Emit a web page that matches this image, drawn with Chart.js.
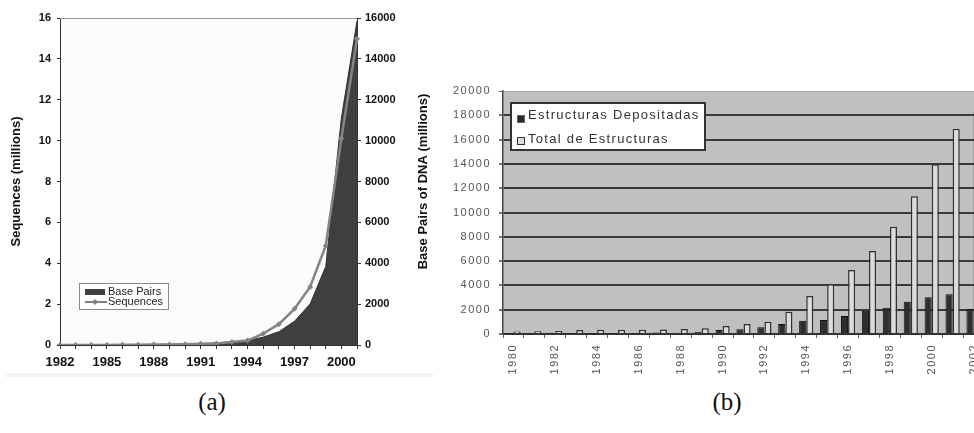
<!DOCTYPE html>
<html lang="en">
<head>
    <meta charset="UTF-8">
    <title>Sequence databases growth</title>
    <script src="https://cdn.jsdelivr.net/npm/chart.js"></script>
    <style>
        html, body { margin: 0; padding: 0; background: #fff; }
        body { position: relative; width: 974px; height: 433px; overflow: hidden; }
        #panelA { position: absolute; left: 0; top: 0; width: 440px; height: 375px; }
        #panelB { position: absolute; left: 440px; top: 0; width: 560px; height: 375px; }
        #edgeA { position: absolute; left: 5px; top: 373px; width: 428px; height: 4px; background: #f3f3f3; }
        .cap { position: absolute; top: 388px; transform: translateX(-50%);
               font-family: "Liberation Serif", "DejaVu Serif", serif; font-size: 25px; color: #111; }
    </style>
</head>
<body>
    <div id="edgeA"></div>
    <canvas id="panelA" width="440" height="375"></canvas>
    <canvas id="panelB" width="560" height="375"></canvas>
    <div class="cap" style="left:212px">(a)</div>
    <div class="cap" style="left:727px">(b)</div>

    <script>
        // (a) GenBank growth
        const yearsA = ['1982', '1983', '1984', '1985', '1986', '1987', '1988', '1989', '1990', '1991',
                        '1992', '1993', '1994', '1995', '1996', '1997', '1998', '1999', '2000', '2001'];
        const yearTicksA = ['1982', '1985', '1988', '1991', '1994', '1997', '2000'];
        // base pairs, millions (right axis)
        const basePairs = [0.7, 2.3, 3.4, 5.2, 9.6, 15.5, 23.8, 34.8, 49.2, 71.9,
                           101, 157, 217, 384, 651, 1160, 2008, 3841, 11101, 15849];
        // sequences, millions (left axis)
        const sequences = [0.0006, 0.0024, 0.0042, 0.0057, 0.0099, 0.0147, 0.0202, 0.0289, 0.0396, 0.0555,
                           0.0786, 0.143, 0.215, 0.555, 1.02, 1.77, 2.84, 4.86, 10.1, 14.98];

        // (b) PDB structures
        const yearsB = ['1980', '1981', '1982', '1983', '1984', '1985', '1986', '1987', '1988', '1989', '1990', '1991',
                        '1992', '1993', '1994', '1995', '1996', '1997', '1998', '1999', '2000', '2001', '2002'];
        const deposited = [20, 20, 100, 30, 30, 30, 40, 120, 60, 190, 330, 390,
                           550, 820, 1090, 1160, 1480, 1920, 2160, 2650, 3020, 3270, 2060];
        const totalStructures = [200, 220, 250, 330, 350, 350, 360, 380, 420, 470, 660, 820,
                                 1010, 1830, 3130, 4110, 5270, 6830, 8820, 11340, 13970, 16900, 18270];

        const sans = '"Liberation Sans", Arial, sans-serif';
        const plain = v => String(v);   // no thousands separator

        // draws plot background, top border, right title and the legend of chart (a)
        const decorA = {
            id: 'decorA',
            beforeDraw(chart) {
                const {ctx, chartArea: a} = chart;
                ctx.save();
                ctx.fillStyle = '#fbfbfb';
                ctx.fillRect(a.left, a.top, a.right - a.left, a.bottom - a.top);
                ctx.restore();
            },
            afterDraw(chart) {
                const {ctx, chartArea: a} = chart;
                ctx.save();
                ctx.strokeStyle = '#9a9a9a';
                ctx.lineWidth = 1;
                ctx.beginPath();
                ctx.moveTo(a.left, a.top + 0.5);
                ctx.lineTo(a.right, a.top + 0.5);
                ctx.stroke();

                // right axis title, reads bottom to top
                ctx.save();
                ctx.translate(chart.width - 17, (a.top + a.bottom) / 2);
                ctx.rotate(-Math.PI / 2);
                ctx.font = 'bold 13px ' + sans;
                ctx.fillStyle = '#111';
                ctx.textAlign = 'center';
                ctx.textBaseline = 'middle';
                ctx.fillText('Base Pairs of DNA (millions)', 0, 0);
                ctx.restore();

                // legend
                const x = a.left + 19, y = a.top + 265;
                ctx.fillStyle = '#fff';
                ctx.fillRect(x, y, 89, 26);
                ctx.strokeStyle = '#8a8a8a';
                ctx.strokeRect(x + 0.5, y + 0.5, 89, 26);
                ctx.fillStyle = '#3f3f3f';
                ctx.fillRect(x + 6, y + 6, 20, 6);
                ctx.strokeStyle = '#7f7f7f';
                ctx.lineWidth = 2;
                ctx.beginPath();
                ctx.moveTo(x + 6, y + 19);
                ctx.lineTo(x + 28, y + 19);
                ctx.stroke();
                ctx.fillStyle = '#7f7f7f';
                ctx.beginPath();
                ctx.moveTo(x + 16, y + 16);
                ctx.lineTo(x + 19, y + 19);
                ctx.lineTo(x + 16, y + 22);
                ctx.lineTo(x + 13, y + 19);
                ctx.closePath();
                ctx.fill();
                ctx.font = '11px ' + sans;
                ctx.fillStyle = '#222';
                ctx.textBaseline = 'middle';
                ctx.fillText('Base Pairs', x + 29, y + 9);
                ctx.fillText('Sequences', x + 29, y + 19);
                ctx.restore();
            }
        };

        new Chart(document.getElementById('panelA'), {
            type: 'line',
            data: {
                labels: yearsA,
                datasets: [{
                    label: 'Sequences',
                    data: sequences,
                    yAxisID: 'y',
                    borderColor: '#858585',
                    borderWidth: 2.5,
                    pointStyle: 'rectRot',
                    pointRadius: 3,
                    pointBackgroundColor: '#858585',
                    pointBorderColor: '#858585',
                    pointBorderWidth: 0,
                    tension: 0
                }, {
                    label: 'Base Pairs',
                    data: basePairs,
                    yAxisID: 'y1',
                    fill: 'origin',
                    backgroundColor: '#3f3f3f',
                    borderColor: '#333',
                    borderWidth: 1,
                    pointRadius: 0,
                    tension: 0
                }]
            },
            options: {
                responsive: false,
                animation: false,
                layout: { padding: { top: 18, left: 0, right: 0, bottom: 0 } },
                plugins: { legend: { display: false }, tooltip: { enabled: false } },
                scales: {
                    x: {
                        offset: false,
                        grid: { drawOnChartArea: false, tickLength: 4, tickColor: '#333' },
                        border: { color: '#333' },
                        ticks: {
                            autoSkip: false, maxRotation: 0, padding: 6, color: '#111',
                            font: { family: sans, size: 13, weight: 'bold' },
                            callback: (v, i) => yearTicksA.includes(yearsA[i]) ? yearsA[i] : ''
                        },
                        afterFit: s => { s.height = 30; }
                    },
                    y: {
                        position: 'left',
                        min: 0, max: 16,
                        grid: { drawOnChartArea: false, tickLength: 3, tickColor: '#333' },
                        border: { color: '#333' },
                        ticks: { stepSize: 2, padding: 6, color: '#111', callback: plain,
                                 font: { family: sans, size: 11, weight: 'bold' } },
                        title: { display: true, text: 'Sequences (millions)', color: '#111',
                                 font: { family: sans, size: 13, weight: 'bold' }, padding: { top: 9 } },
                        afterFit: s => { s.width = 60; }
                    },
                    y1: {
                        position: 'right',
                        min: 0, max: 16000,
                        grid: { drawOnChartArea: false, tickLength: 4, tickColor: '#333' },
                        border: { color: '#333' },
                        ticks: { stepSize: 2000, padding: 4, color: '#111', callback: plain,
                                 font: { family: sans, size: 11, weight: 'bold' } },
                        afterFit: s => { s.width = 83; }
                    }
                }
            },
            plugins: [decorA]
        });

        // plot background, spaced lettering and legend of chart (b)
        const decorB = {
            id: 'decorB',
            beforeDraw(chart) {
                const {ctx, chartArea: a} = chart;
                ctx.fillStyle = '#c0c0c0';
                ctx.fillRect(a.left, a.top, a.right - a.left, a.bottom - a.top);
                ctx.letterSpacing = '1.5px';
            },
            afterDraw(chart) {
                const {ctx, chartArea: a} = chart;
                const x = a.left + 8, y = a.top + 12;
                ctx.save();
                ctx.fillStyle = '#fff';
                ctx.fillRect(x, y, 194, 47);
                ctx.strokeStyle = '#333';
                ctx.lineWidth = 2;
                ctx.strokeRect(x, y, 194, 47);
                ctx.lineWidth = 1;
                ctx.fillStyle = '#2a2a2a';
                ctx.fillRect(x + 6, y + 12, 7, 7);
                ctx.strokeStyle = '#666';
                ctx.strokeRect(x + 6.5, y + 12.5, 7, 7);
                ctx.fillStyle = '#dcdcdc';
                ctx.fillRect(x + 6, y + 34, 7, 7);
                ctx.strokeStyle = '#333';
                ctx.strokeRect(x + 6.5, y + 34.5, 7, 7);
                ctx.letterSpacing = '1.3px';
                ctx.font = '13px ' + sans;
                ctx.fillStyle = '#333';
                ctx.textBaseline = 'middle';
                ctx.fillText('Estructuras Depositadas', x + 17, y + 12);
                ctx.fillText('Total de Estructuras', x + 17, y + 36);
                ctx.restore();
            }
        };

        new Chart(document.getElementById('panelB'), {
            type: 'bar',
            data: {
                labels: yearsB,
                datasets: [{
                    label: 'Estructuras Depositadas',
                    data: deposited,
                    backgroundColor: '#2f2f2f',
                    borderColor: '#111',
                    borderWidth: 1,
                    barPercentage: 1,
                    categoryPercentage: 0.68
                }, {
                    label: 'Total de Estructuras',
                    data: totalStructures,
                    backgroundColor: '#dcdcdc',
                    borderColor: '#333',
                    borderWidth: 1.5,
                    barPercentage: 1,
                    categoryPercentage: 0.68
                }]
            },
            options: {
                responsive: false,
                animation: false,
                layout: { padding: { top: 91, left: 0, right: 16, bottom: 0 } },
                plugins: { legend: { display: false }, tooltip: { enabled: false } },
                scales: {
                    x: {
                        grid: { drawOnChartArea: false, tickLength: 4, tickColor: '#666' },
                        border: { color: '#333', width: 2 },
                        ticks: {
                            autoSkip: false, minRotation: 90, maxRotation: 90, padding: 6, color: '#555',
                            font: { family: sans, size: 11 },
                            callback: (v, i) => i % 2 === 0 ? yearsB[i] : ''
                        },
                        afterFit: s => { s.height = 41; }
                    },
                    y: {
                        min: 0, max: 20000,
                        grid: {
                            tickLength: 4, tickColor: '#777',
                            color: c => c.tick.value === 20000 ? '#a5a5a5' : (c.tick.value === 0 ? 'rgba(0,0,0,0)' : '#3a3a3a'),
                            lineWidth: c => c.tick.value === 20000 ? 1 : 2
                        },
                        border: { color: '#444', width: 1.5 },
                        ticks: { stepSize: 2000, padding: 8, color: '#555', callback: plain,
                                 font: { family: sans, size: 11 } },
                        afterFit: s => { s.width = 63; }
                    }
                }
            },
            plugins: [decorB]
        });
    </script>
</body>
</html>
